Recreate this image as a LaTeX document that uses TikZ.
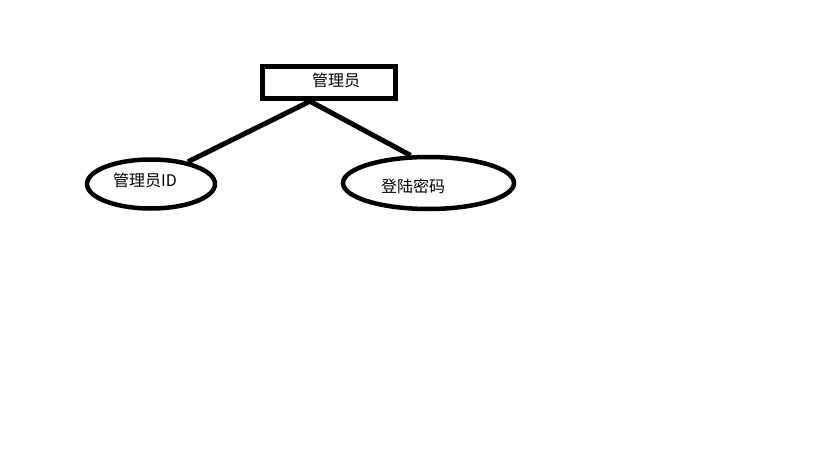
\documentclass[tikz,border=0pt]{standalone}
\usepackage{fontspec}
\setmainfont{Noto Sans CJK SC}
\usepackage{tikz}
\usetikzlibrary{shapes.geometric}
\newlength{\edgew}
\setlength{\edgew}{5pt}

\begin{document}
\begin{tikzpicture}[x=1pt,y=-1pt,
	entity/.style={draw,line width=5.5pt,minimum width=133pt,minimum height=32pt,inner sep=0pt},
	attr/.style={draw,ellipse,line width=4.5pt,inner sep=0pt},
	txt/.style={font=\fontsize{16pt}{19pt}\selectfont,inner sep=0pt}]
	\useasboundingbox[fill=white] (0,0) rectangle (819,460);

	\node[entity] (adm) at (329,82.5) {};
	\node[txt] (admtext) at (336,80) {管理员};

	\node[attr,minimum width=128pt,minimum height=49pt] (id) at (151,184) {};
	\node[txt] (idtext) at (145,180) {管理员ID};

	\node[attr,minimum width=171pt,minimum height=52pt] (pw) at (428.5,183) {};
	\node[txt] (pwtext) at (413,186) {登陆密码};

	\coordinate (apex) at ([xshift=-19pt]adm.south);
	\draw[line width=\edgew] (apex) -- (id.31);
	\draw[line width=\edgew] (apex) -- (pw.123);
\end{tikzpicture}
\end{document}
